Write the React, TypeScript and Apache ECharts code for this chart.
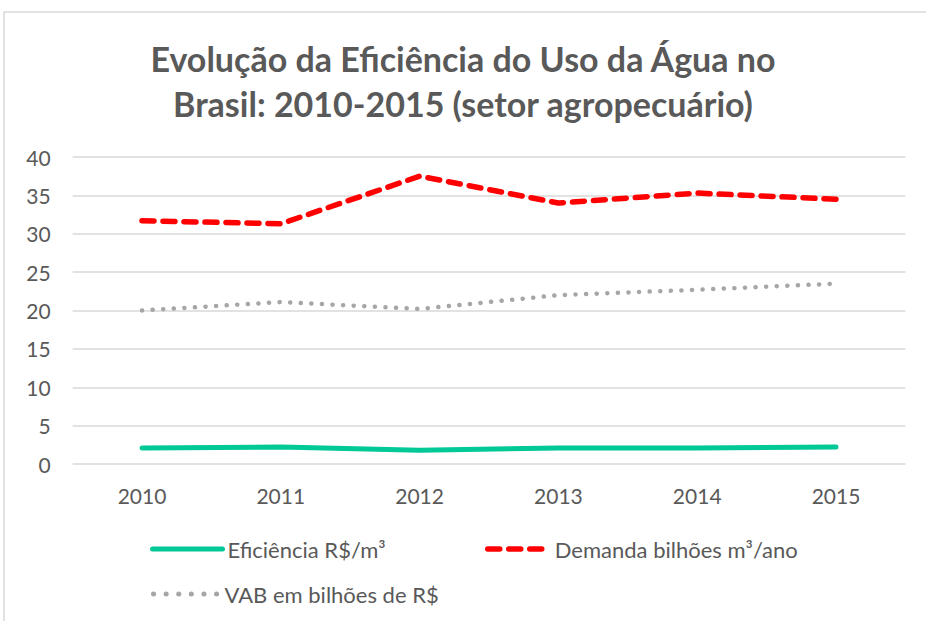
import React, { useEffect, useRef } from "react";
import * as echarts from "echarts";

const categories = ["2010", "2011", "2012", "2013", "2014", "2015"];
const eficiencia = [2.1, 2.2, 1.8, 2.1, 2.1, 2.2];
const demanda = [31.7, 31.3, 37.5, 34.0, 35.3, 34.5];
const vab = [20.0, 21.1, 20.2, 22.0, 22.7, 23.5];
const seriesNames = ["Eficiência R$/m³", "Demanda bilhões m³/ano", "VAB em bilhões de R$"];

const FONT = "Lato, 'Open Sans', sans-serif";
const TXT = "#595959";

export default function App() {
  const ref = useRef<HTMLDivElement>(null);
  useEffect(() => {
    if (!ref.current) return;
    const chart = echarts.init(ref.current, undefined, { renderer: "svg" });
    const legendText = { color: TXT, fontSize: 22, fontFamily: FONT };
    const legendBase = { padding: 0, itemHeight: 14, textStyle: legendText, itemStyle: { opacity: 0 } };
    chart.setOption({
      animation: false,
      backgroundColor: "#ffffff",
      title: {
        text: "Evolução da Eficiência do Uso da Água no\nBrasil: 2010-2015 (setor agropecuário)",
        left: "center",
        top: 31,
        textStyle: { color: TXT, fontSize: 34, fontWeight: "bold", fontFamily: FONT, lineHeight: 45 },
      },
      graphic: [
        { type: "rect", shape: { x: 4, y: 12, width: 1000, height: 1000 }, style: { fill: "none", stroke: "#D9D9D9", lineWidth: 1.5 }, silent: true },
      ],
      grid: { left: 72.6, right: 20.6, top: 157, bottom: 157 },
      legend: [
        { ...legendBase, data: [seriesNames[0]], left: 150, top: 538, itemWidth: 70, itemGap: 4,
          lineStyle: { width: 5, cap: "round" } },
        { ...legendBase, data: [seriesNames[1]], left: 485, top: 538, itemWidth: 62,
          lineStyle: { width: 5.5, cap: "round", type: [12, 9] } },
        { ...legendBase, data: [seriesNames[2]], left: 151, top: 583, itemWidth: 66,
          lineStyle: { width: 5, cap: "round", type: [0.1, 12.5] } },
      ],
      xAxis: {
        type: "category",
        data: categories,
        boundaryGap: true,
        axisLine: { show: false },
        axisTick: { show: false },
        axisLabel: { color: TXT, fontSize: 21, fontFamily: FONT, margin: 21 },
      },
      yAxis: {
        type: "value",
        min: 0,
        max: 40,
        interval: 5,
        axisLine: { show: false },
        axisTick: { show: false },
        axisLabel: { color: TXT, fontSize: 21, fontFamily: FONT, margin: 22 },
        splitLine: { lineStyle: { color: "#D9D9D9", width: 1.5 } },
      },
      series: [
        {
          name: seriesNames[0],
          type: "line",
          data: eficiencia,
          showSymbol: false,
          symbol: "none",
          color: "#00C896",
          lineStyle: { color: "#00C896", width: 5, cap: "round", join: "round" },
        },
        {
          name: seriesNames[1],
          type: "line",
          data: demanda,
          showSymbol: false,
          symbol: "none",
          color: "#FF0000",
          lineStyle: { color: "#FF0000", width: 5.5, type: [12, 9], cap: "round", join: "round" },
        },
        {
          name: seriesNames[2],
          type: "line",
          data: vab,
          showSymbol: false,
          symbol: "none",
          color: "#A6A6A6",
          lineStyle: { color: "#A6A6A6", width: 4.5, type: [0.1, 10.5], cap: "round", join: "round" },
        },
      ],
    });
    return () => chart.dispose();
  }, []);
  return (
    <div
      ref={ref}
      style={{ position: "fixed", left: 0, top: 0, width: 926, height: 621 }}
    />
  );
}
